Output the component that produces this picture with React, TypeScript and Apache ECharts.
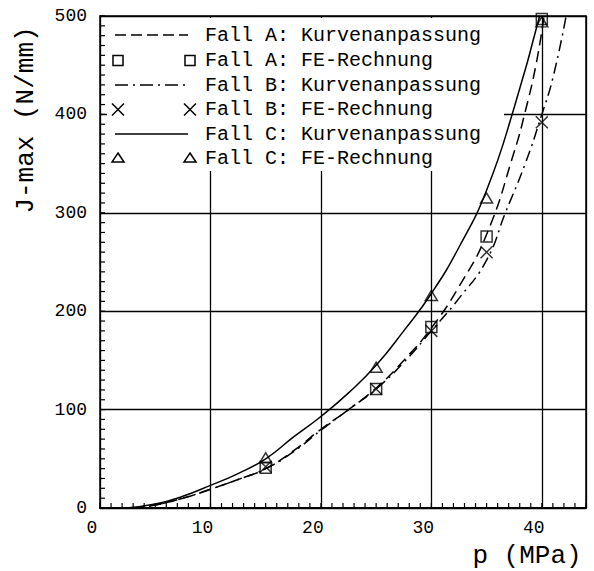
import React, { useEffect, useRef } from "react";
import * as echarts from "echarts";

// FE-Rechnung points (p in MPa, J-max in N/mm)
const pFE = [15, 25, 30, 35, 40];
const feA = [41, 121, 184, 276, 497];
const feB = [42, 121, 180, 260, 392];
const feC = [51, 143, 216, 315, 494];

// Kurvenanpassung curves: [p, J]
const curveA: number[][] = [
  [3, 0], [5, 3], [7.5, 10], [10, 19], [12.5, 29], [15, 40], [17.5, 58], [20, 80],
  [22.5, 100], [25, 122], [27.5, 150], [30, 183], [32.5, 225], [35, 278], [37.5, 362],
  [38.5, 403], [39.5, 452], [40.2, 500],
];
const curveB: number[][] = [
  [3, 0], [5, 3], [7.5, 10], [10, 19], [12.5, 29], [15, 40], [17.5, 57], [20, 79],
  [22.5, 100], [25, 121], [27.5, 148], [30, 180], [32.5, 213], [35, 252], [36.7, 300],
  [38.5, 350], [40, 400], [41, 437], [42.2, 500],
];
const curveC: number[][] = [
  [2.3, 0], [5, 4], [7.5, 12], [10, 23], [12.5, 35], [15, 50], [17.5, 72], [20, 93],
  [22.5, 117], [25, 145], [27.5, 180], [30, 218], [32.5, 265], [35, 323], [37.5, 407],
  [39.8, 500],
];

// axis settings
const xMax = 44;
const yMax = 500;
const xMinorStep = 1;
const yMinorStep = 10;

const legendLabels = [
  "Fall A: Kurvenanpassung",
  "Fall A: FE-Rechnung",
  "Fall B: Kurvenanpassung",
  "Fall B: FE-Rechnung",
  "Fall C: Kurvenanpassung",
  "Fall C: FE-Rechnung",
];
const xTitle = "p (MPa)";
const yTitle = "J-max (N/mm)";

const X_PATH = "path://M0,0L10,10M10,0L0,10";
const MONO = '"Liberation Mono", "DejaVu Sans Mono", monospace';

export default function App() {
  const ref = useRef<HTMLDivElement>(null);

  useEffect(() => {
    if (!ref.current) return;
    const chart = echarts.init(ref.current, undefined, { renderer: "svg" });

    const markerStyle = {
      color: "rgba(0,0,0,0)",
      borderColor: "#000",
      borderWidth: 1.5,
    };

    // legend layout (graphic)
    const rowY = [35, 60.5, 85, 109.5, 134, 158];
    const lx0 = 115;
    const lx1 = 188;
    const textX = 205;
    const lineDashes: any[] = [[11, 5], null, [13, 5, 2, 5], null, "solid", null];
    const graphics: any[] = [
      {
        type: "rect",
        shape: { x: 107, y: 18, width: 397, height: 153 },
        style: { fill: "#fff" },
        z: 3,
      },
    ];
    const markerGraphic = (kind: string, cx: number, cy: number) => {
      if (kind === "square") {
        return {
          type: "rect",
          shape: { x: cx - 5, y: cy - 5, width: 10, height: 10 },
          style: { fill: "none", stroke: "#000", lineWidth: 1.5 },
          z: 4,
        };
      }
      if (kind === "x") {
        return {
          type: "group",
          z: 4,
          children: [
            { type: "line", shape: { x1: cx - 6, y1: cy - 6, x2: cx + 6, y2: cy + 6 }, style: { stroke: "#000", lineWidth: 1.5 }, z: 4 },
            { type: "line", shape: { x1: cx + 6, y1: cy - 6, x2: cx - 6, y2: cy + 6 }, style: { stroke: "#000", lineWidth: 1.5 }, z: 4 },
          ],
        };
      }
      return {
        type: "polygon",
        shape: { points: [[cx, cy - 5], [cx + 6, cy + 4], [cx - 6, cy + 4]] },
        style: { fill: "none", stroke: "#000", lineWidth: 1.5 },
        z: 4,
      };
    };
    const markerKinds = [null, "square", null, "x", null, "triangle"];
    legendLabels.forEach((label, i) => {
      const y = rowY[i];
      const dash = lineDashes[i];
      if (dash) {
        graphics.push({
          type: "line",
          shape: { x1: lx0, y1: y, x2: lx1, y2: y },
          style: { stroke: "#000", lineWidth: 1.6, lineDash: dash === "solid" ? undefined : dash },
          z: 4,
        });
      } else {
        const k = markerKinds[i] as string;
        graphics.push(markerGraphic(k, 118, y));
        graphics.push(markerGraphic(k, 190, y));
      }
      graphics.push({
        type: "text",
        x: textX,
        y: y,
        z: 4,
        style: {
          text: label,
          fontFamily: MONO,
          fontSize: 20,
          fill: "#000",
          align: "left",
          verticalAlign: "middle",
        },
      });
    });
    graphics.push({
      type: "text",
      x: 26,
      y: 120,
      rotation: Math.PI / 2,
      style: {
        text: yTitle,
        fontFamily: MONO,
        fontSize: 26,
        fill: "#000",
        align: "center",
        verticalAlign: "middle",
      },
    });
    graphics.push({
      type: "text",
      x: 527,
      y: 556,
      style: {
        text: xTitle,
        fontFamily: MONO,
        fontSize: 26,
        fill: "#000",
        align: "center",
        verticalAlign: "middle",
      },
    });

    const zip = (xs: number[], ys: number[]) => xs.map((x, i) => [x, ys[i]]);

    // fine tick positions along the axes (axis scale positions, not data)
    const xTickData: number[][] = [];
    for (let v = 0; v <= xMax; v += xMinorStep) xTickData.push([v, 0]);
    const yTickData: number[][] = [];
    for (let v = 0; v <= yMax; v += yMinorStep) yTickData.push([0, v]);

    const tickSeries = (data: number[][], dir: "x" | "y") => ({
      type: "custom",
      silent: true,
      clip: false,
      z: 6,
      data,
      renderItem: (_params: any, api: any) => {
        const pt = api.coord([api.value(0), api.value(1)]);
        const shape =
          dir === "x"
            ? { x1: pt[0], y1: pt[1], x2: pt[0], y2: pt[1] - 5 }
            : { x1: pt[0], y1: pt[1], x2: pt[0] + 5, y2: pt[1] };
        return {
          type: "line",
          shape,
          style: { stroke: "#000", lineWidth: 1.2 },
        };
      },
    });

    // frame-only axes (top / right border)
    const frameAxis = (min: number, max: number, position: string) => ({
      type: "value",
      min,
      max,
      position,
      axisLine: { show: true, onZero: false, lineStyle: { color: "#000", width: 1.5 } },
      axisTick: { show: false },
      minorTick: { show: false },
      axisLabel: { show: false },
      splitLine: { show: false },
    });

    chart.setOption({
      animation: false,
      grid: {
        left: 100,
        top: 16,
        width: 486,
        height: 492,
      },
      xAxis: [
        {
          type: "value",
          min: 0,
          max: xMax,
          interval: 10,
          position: "bottom",
          axisLine: { show: true, onZero: false, lineStyle: { color: "#000", width: 2 } },
          axisTick: { show: false },
          splitLine: { show: true, lineStyle: { color: "#000", width: 1.3 } },
          axisLabel: {
            color: "#000",
            fontFamily: MONO,
            fontSize: 18,
            margin: 11,
            padding: [0, 16, 0, 0],
            formatter: (v: number) => (v % 10 === 0 ? String(v) : ""),
          },
        },
        frameAxis(0, xMax, "top"),
      ],
      yAxis: [
        {
          type: "value",
          min: 0,
          max: yMax,
          interval: 100,
          position: "left",
          axisLine: { show: true, onZero: false, lineStyle: { color: "#000", width: 1.5 } },
          axisTick: { show: false },
          splitLine: { show: true, lineStyle: { color: "#000", width: 1.3 } },
          axisLabel: {
            color: "#000",
            fontFamily: MONO,
            fontSize: 18,
            margin: 13,
          },
        },
        frameAxis(0, yMax, "right"),
      ],
      graphic: graphics,
      series: [
        {
          name: legendLabels[0],
          type: "line",
          data: curveA,
          smooth: true,
          showSymbol: false,
          symbol: "none",
          lineStyle: { color: "#000", width: 1.5, type: [11, 6] },
        },
        {
          name: legendLabels[2],
          type: "line",
          data: curveB,
          smooth: true,
          showSymbol: false,
          symbol: "none",
          lineStyle: { color: "#000", width: 1.5, type: [11, 5, 2, 5] },
        },
        {
          name: legendLabels[4],
          type: "line",
          data: curveC,
          smooth: true,
          showSymbol: false,
          symbol: "none",
          lineStyle: { color: "#000", width: 1.5, type: "solid" },
        },
        {
          name: legendLabels[1],
          type: "scatter",
          data: zip(pFE, feA),
          symbol: "rect",
          symbolSize: 11,
          itemStyle: markerStyle,
        },
        {
          name: legendLabels[3],
          type: "scatter",
          data: zip(pFE, feB),
          symbol: X_PATH,
          symbolSize: 12,
          itemStyle: markerStyle,
        },
        {
          name: legendLabels[5],
          type: "scatter",
          data: zip(pFE, feC),
          symbol: "triangle",
          symbolSize: [12, 10],
          itemStyle: markerStyle,
        },
        tickSeries(xTickData, "x"),
        tickSeries(yTickData, "y"),
      ],
    });

    return () => chart.dispose();
  }, []);

  return (
    <div
      ref={ref}
      style={{ position: "absolute", left: 0, top: 0, width: 594, height: 571, background: "#fff" }}
    />
  );
}
